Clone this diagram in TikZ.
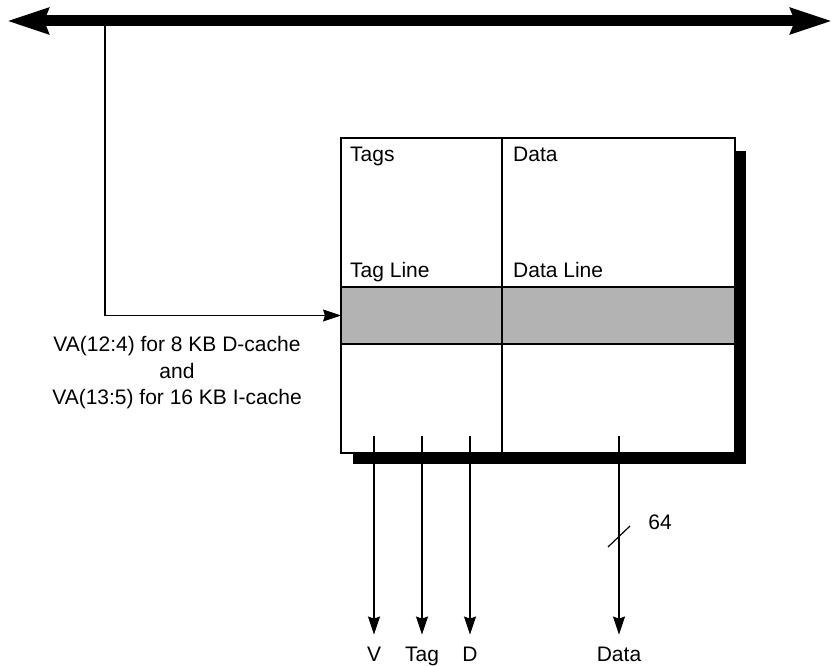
\documentclass[tikz,border=0pt]{standalone}
\usepackage{fontspec}
\setmainfont{Liberation Sans}
\usetikzlibrary{arrows.meta, positioning}
\definecolor{bandgray}{RGB}{179,179,179}

\begin{document}
\begin{tikzpicture}[
    x=1pt, y=-1pt,
    every node/.style={font=\fontsize{21}{26.5}\selectfont},
    cell/.style={rectangle, draw=black, fill=white, line width=1.2pt,
                 inner sep=0pt, outer sep=0pt, anchor=north west},
    band/.style={cell, fill=bandgray},
    lbl/.style={inner sep=0pt, anchor=base west},
    pin/.style={inner sep=0pt, outer sep=12pt, anchor=base},
    bus/.style={{Stealth[length=41pt,width=25pt,inset=4pt]}-{Stealth[length=41pt,width=25pt,inset=4pt]},
                line width=11pt},
    sig/.style={-{Stealth[length=18pt,width=12pt,inset=2pt]}, line width=1.2pt}
]
\useasboundingbox (0,0) rectangle (833,666);

% System bus
\coordinate (busL) at (7,21);
\coordinate (busR) at (832,21);
\coordinate (tap) at (105,21);
\draw [bus] (busL) -- (busR);

% Shadow
\fill [black] (353,151) rectangle (746,464);

% Cache array
\node (tagsTop) [cell, minimum width=161pt, minimum height=149pt] at (341,138) {};
\node (tagLine) [band, minimum width=161pt, minimum height=57pt, below=0pt of tagsTop] {};
\node (tagsBot) [cell, minimum width=161pt, minimum height=109pt, below=0pt of tagLine] {};
\node (dataTop) [cell, minimum width=233pt, minimum height=149pt, right=0pt of tagsTop] {};
\node (dataLine) [band, minimum width=233pt, minimum height=57pt, below=0pt of dataTop] {};
\node (dataBot) [cell, minimum width=233pt, minimum height=109pt, below=0pt of dataLine] {};

% Labels
\node (tagsLbl) [lbl] at (350,161) {Tags};
\node (dataLbl) [lbl] at (513,161) {Data};
\node (tagLineLbl) [lbl] at (350,277) {Tag Line};
\node (dataLineLbl) [lbl] at (513,277) {Data Line};

\node (vaNote) [align=center] at (177,373)
    {VA(12:4) for 8 KB D-cache\\and\\VA(13:5) for 16 KB I-cache};

% Index
\draw [sig] (tap) |- (tagLine.west);

% Outputs
\coordinate (vTap) at (374,436);
\coordinate (tagTap) at (422,436);
\coordinate (dTap) at (470,436);
\coordinate (dataTap) at (619,436);

\node (vOut) [pin] at (374,661) {V};
\node (tagOut) [pin] at (422,661) {Tag};
\node (dOut) [pin] at (470,661) {D};
\node (dataOut) [pin] at (619,661) {Data};

\draw [sig] (vTap) -- (vOut);
\draw [sig] (tagTap) -- (tagOut);
\draw [sig] (dTap) -- (dOut);
\draw [sig] (dataTap) -- (dataOut);

% Width mark
\draw [line width=1.2pt] (608,547) -- (630,526);
\node (busWidth) at (660,522) {64};

\end{tikzpicture}
\end{document}
